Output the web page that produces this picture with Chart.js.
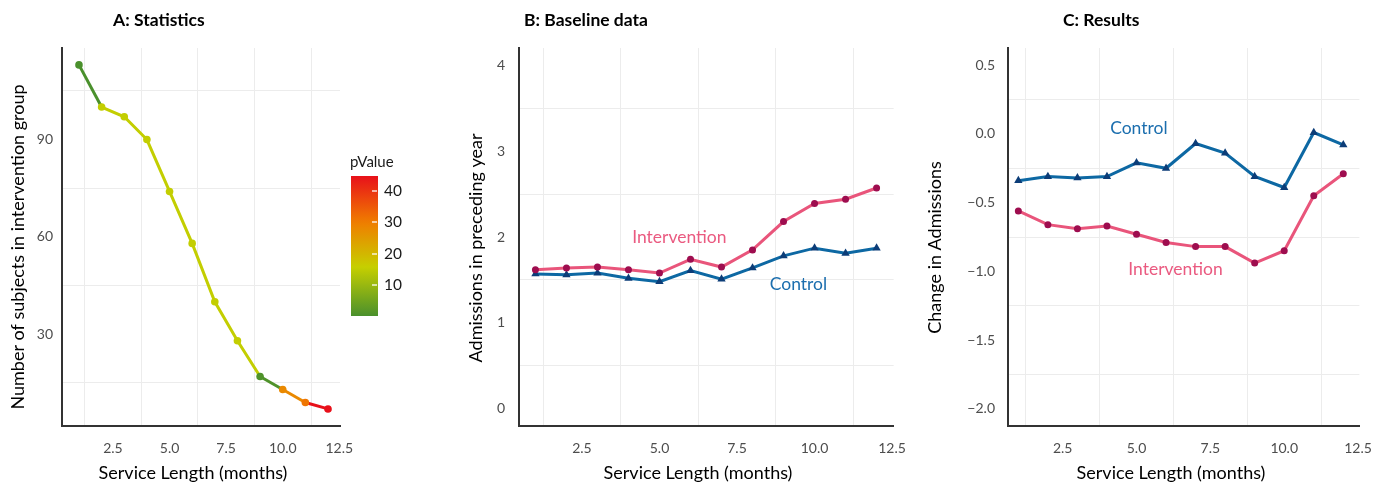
<!DOCTYPE html>
<html>
<head>
<meta charset="utf-8">
<script src="https://cdn.jsdelivr.net/npm/chart.js@4.4.1/dist/chart.umd.min.js"></script>
<style>
  body { margin: 0; background: #fff; width: 1386px; height: 482px; position: relative; overflow: hidden; }
  canvas { position: absolute; top: 0; }
</style>
</head>
<body>
<canvas id="chartA" width="460" height="482" style="left:0px"></canvas>
<canvas id="chartB" width="460" height="482" style="left:460px"></canvas>
<canvas id="chartC" width="466" height="482" style="left:920px"></canvas>
<script>
// data
const months = [1, 2, 3, 4, 5, 6, 7, 8, 9, 10, 11, 12];
const subjects = [113, 100, 97, 90, 74, 58, 40, 28, 17, 13, 9, 7];
const pValue = [0.3, 15.5, 15.5, 15.5, 15.5, 15.5, 15.5, 15.5, 0.9, 28, 31, 44.7];
const segmentPValue = [0.3, 15.5, 15.5, 15.5, 15.5, 15.5, 15.5, 15.5, 0.9, 28, 44.7];
const pValueTicks = [10, 20, 30, 40];

const baseIntervention = [1.62, 1.64, 1.65, 1.62, 1.58, 1.74, 1.65, 1.85, 2.18, 2.39, 2.44, 2.57];
const baseControl = [1.57, 1.56, 1.58, 1.52, 1.48, 1.61, 1.51, 1.64, 1.78, 1.87, 1.81, 1.87];

const changeIntervention = [-0.56, -0.66, -0.69, -0.67, -0.73, -0.79, -0.82, -0.82, -0.94, -0.85, -0.45, -0.29];
const changeControl = [-0.34, -0.31, -0.32, -0.31, -0.21, -0.25, -0.07, -0.14, -0.31, -0.39, 0.01, -0.08];

const xMajor = [2.5, 5, 7.5, 10, 12.5];
const xMinor = [1.25, 3.75, 6.25, 8.75, 11.25];
const yMajorA = [30, 60, 90];
const yMinorA = [15, 45, 75, 105];
const yMajorB = [0, 1, 2, 3, 4];
const yMinorB = [0.5, 1.5, 2.5, 3.5];
const yMajorC = [-2, -1.5, -1, -0.5, 0, 0.5];
const yMinorC = [-1.75, -1.25, -0.75, -0.25, 0.25];

const FONT = 'Lato, "Noto Sans", sans-serif';
const PINK = '#e9557b', MAROON = '#9e0d4f', BLUE = '#0d68a3', NAVY = '#0c3d78';

// colour scale for pValue
const stops = [
  [0, [74, 144, 44]],
  [0.35, [198, 207, 0]],
  [0.67, [240, 125, 0]],
  [1, [232, 16, 26]]
];
const pLo = Math.min(...pValue), pHi = Math.max(...pValue);
function pColor(v) {
  let f = (v - pLo) / (pHi - pLo);
  f = Math.max(0, Math.min(1, f));
  for (let i = 1; i < stops.length; i++) {
    if (f <= stops[i][0]) {
      const a = stops[i - 1], b = stops[i];
      const t = (f - a[0]) / (b[0] - a[0]);
      const c = a[1].map((ch, k) => Math.round(ch + (b[1][k] - ch) * t));
      return 'rgb(' + c.join(',') + ')';
    }
  }
  return 'rgb(' + stops[stops.length - 1][1].join(',') + ')';
}

function fmt(v, dec) {
  const s = Math.abs(v).toFixed(dec);
  return v < -1e-9 ? '\u2212' + s : s;
}

// texts are kept in a closure (plugin options proxies mangled x/y)
function textPlugin(items) {
  return {
    id: 'texts',
    afterDraw(chart) {
      const ctx = chart.ctx;
      items.forEach(t => {
        let px = t.px, py = t.py;
        if (t.at) {
          px = chart.scales.x.getPixelForValue(t.at[0]);
          py = chart.scales.y.getPixelForValue(t.at[1]);
        }
        ctx.save();
        ctx.translate(px, py);
        if (t.rot) ctx.rotate(t.rot);
        ctx.font = t.font;
        ctx.fillStyle = t.color || '#000';
        ctx.textAlign = t.align || 'center';
        ctx.textBaseline = t.baseline || 'middle';
        ctx.fillText(t.text, 0, 0);
        ctx.restore();
      });
    }
  };
}

function colorbarPlugin(box) {
  return {
    id: 'colorbar',
    afterDraw(chart) {
      const ctx = chart.ctx;
      const g = ctx.createLinearGradient(0, box.bottom, 0, box.top);
      for (let i = 0; i <= 20; i++) g.addColorStop(i / 20, pColor(pLo + (pHi - pLo) * i / 20));
      ctx.save();
      ctx.fillStyle = g;
      ctx.fillRect(box.left, box.top, box.width, box.bottom - box.top);
      const yOf = v => box.bottom - (v - pLo) / (pHi - pLo) * (box.bottom - box.top);
      pValueTicks.forEach(v => {
        const y = Math.round(yOf(v));
        ctx.strokeStyle = 'rgba(255,255,255,0.85)';
        ctx.lineWidth = 1.5;
        ctx.beginPath();
        ctx.moveTo(box.left + box.width - 6, y);
        ctx.lineTo(box.left + box.width - 1, y);
        ctx.stroke();
        ctx.font = '15.5px ' + FONT;
        ctx.fillStyle = '#1a1a1a';
        ctx.textAlign = 'left';
        ctx.textBaseline = 'middle';
        ctx.fillText(String(v), box.left + box.width + 6, y);
      });
      ctx.font = '15px ' + FONT;
      ctx.textBaseline = 'alphabetic';
      ctx.fillText('pValue', box.left - 1, box.top - 9);
      ctx.restore();
    }
  };
}

function makeScales(xr, yr, yMajor, yMinor, yWidth, yPad, yDec) {
  const isMajor = (list, v) => list.some(m => Math.abs(m - v) < 1e-9);
  const gridColor = (list) => (c) => (c.tick && isMajor(list, c.tick.value)) ? 'rgba(0,0,0,0)' : '#ececec';
  return {
    x: {
      type: 'linear', min: xr[0], max: xr[1],
      afterBuildTicks: s => { s.ticks = xMinor.concat(xMajor).sort((a, b) => a - b).map(v => ({ value: v })); },
      afterFit: s => { s.height = 56; },
      grid: { color: gridColor(xMajor), lineWidth: 1, drawTicks: false },
      border: { display: true, color: '#333333', width: 2 },
      ticks: {
        autoSkip: false, maxRotation: 0, padding: 14, color: '#4d4d4d',
        font: { family: FONT, size: 14 },
        callback: v => isMajor(xMajor, v) ? v.toFixed(1) : ''
      }
    },
    y: {
      type: 'linear', min: yr[0], max: yr[1],
      afterBuildTicks: s => { s.ticks = yMinor.concat(yMajor).sort((a, b) => a - b).map(v => ({ value: v })); },
      afterFit: s => { s.width = yWidth; },
      grid: { color: gridColor(yMajor), lineWidth: 1, drawTicks: false },
      border: { display: true, color: '#333333', width: 2 },
      ticks: {
        autoSkip: false, padding: yPad, color: '#4d4d4d',
        font: { family: FONT, size: 14 },
        callback: v => isMajor(yMajor, v) ? fmt(v, yDec) : ''
      }
    }
  };
}

const pts = (ys) => months.map((m, i) => ({ x: m, y: ys[i] }));
const baseOptions = (pad, scales) => ({
  responsive: false, animation: false,
  layout: { padding: pad },
  scales: scales,
  plugins: { legend: { display: false }, tooltip: { enabled: false } }
});

// A: Statistics
new Chart(document.getElementById('chartA'), {
  type: 'line',
  data: {
    datasets: [{
      data: pts(subjects),
      borderWidth: 3,
      borderColor: pColor(pValue[0]),
      segment: { borderColor: c => pColor(segmentPValue[c.p0DataIndex]) },
      pointRadius: 3.8,
      pointBackgroundColor: pValue.map(pColor),
      pointBorderColor: pValue.map(pColor),
      pointBorderWidth: 0,
      tension: 0
    }]
  },
  options: baseOptions({ top: 48, right: 120, bottom: 0, left: 0 },
    makeScales([0.25, 12.53], [1.74, 118.2], yMajorA, yMinorA, 62, 9, 0)),
  plugins: [
    textPlugin([
      { text: 'A: Statistics', px: 113, py: 20, align: 'left', font: 'bold 17.5px ' + FONT },
      { text: 'Number of subjects in intervention group', px: 24, py: 247, rot: -Math.PI / 2, baseline: 'alphabetic', font: '18px ' + FONT },
      { text: 'Service Length (months)', px: 193, py: 479, baseline: 'alphabetic', font: '18px ' + FONT }
    ]),
    colorbarPlugin({ left: 351, top: 176, width: 27, bottom: 316 })
  ]
});

function twoSeries(inter, ctrl) {
  return [
    { data: pts(inter), borderColor: PINK, borderWidth: 3, pointRadius: 3.5, pointStyle: 'circle',
      pointBackgroundColor: MAROON, pointBorderColor: MAROON, pointBorderWidth: 0, tension: 0 },
    { data: pts(ctrl), borderColor: BLUE, borderWidth: 3, pointRadius: 4.8, pointStyle: 'triangle',
      pointBackgroundColor: NAVY, pointBorderColor: NAVY, pointBorderWidth: 0, tension: 0 }
  ];
}

// B: Baseline data
new Chart(document.getElementById('chartB'), {
  type: 'line',
  data: { datasets: twoSeries(baseIntervention, baseControl) },
  options: baseOptions({ top: 48, right: 21, bottom: 0, left: 0 },
    makeScales([0.47, 12.55], [-0.2, 4.2], yMajorB, yMinorB, 59, 14, 0)),
  plugins: [
    textPlugin([
      { text: 'B: Baseline data', px: 64, py: 20, align: 'left', font: 'bold 17.5px ' + FONT },
      { text: 'Admissions in preceding year', px: 21.5, py: 248, rot: -Math.PI / 2, baseline: 'alphabetic', font: '18px ' + FONT },
      { text: 'Service Length (months)', px: 238, py: 479, baseline: 'alphabetic', font: '18px ' + FONT },
      { text: 'Intervention', at: [5.64, 1.99], color: '#ea5a80', font: '17.5px ' + FONT },
      { text: 'Control', at: [9.48, 1.445], color: '#1b6eae', font: '17.5px ' + FONT }
    ])
  ]
});

// C: Results
new Chart(document.getElementById('chartC'), {
  type: 'line',
  data: { datasets: twoSeries(changeIntervention, changeControl) },
  options: baseOptions({ top: 48, right: 26, bottom: 0, left: 0 },
    makeScales([0.65, 12.545], [-2.125, 0.625], yMajorC, yMinorC, 88, 13, 1)),
  plugins: [
    textPlugin([
      { text: 'C: Results', px: 143, py: 20, align: 'left', font: 'bold 17.5px ' + FONT },
      { text: 'Change in Admissions', px: 20.7, py: 247.5, rot: -Math.PI / 2, baseline: 'alphabetic', font: '18px ' + FONT },
      { text: 'Service Length (months)', px: 251, py: 479, baseline: 'alphabetic', font: '18px ' + FONT },
      { text: 'Control', at: [5.08, 0.041], color: '#1b6eae', font: '17.5px ' + FONT },
      { text: 'Intervention', at: [6.32, -0.986], color: '#ea5a80', font: '17.5px ' + FONT }
    ])
  ]
});
</script>
</body>
</html>
